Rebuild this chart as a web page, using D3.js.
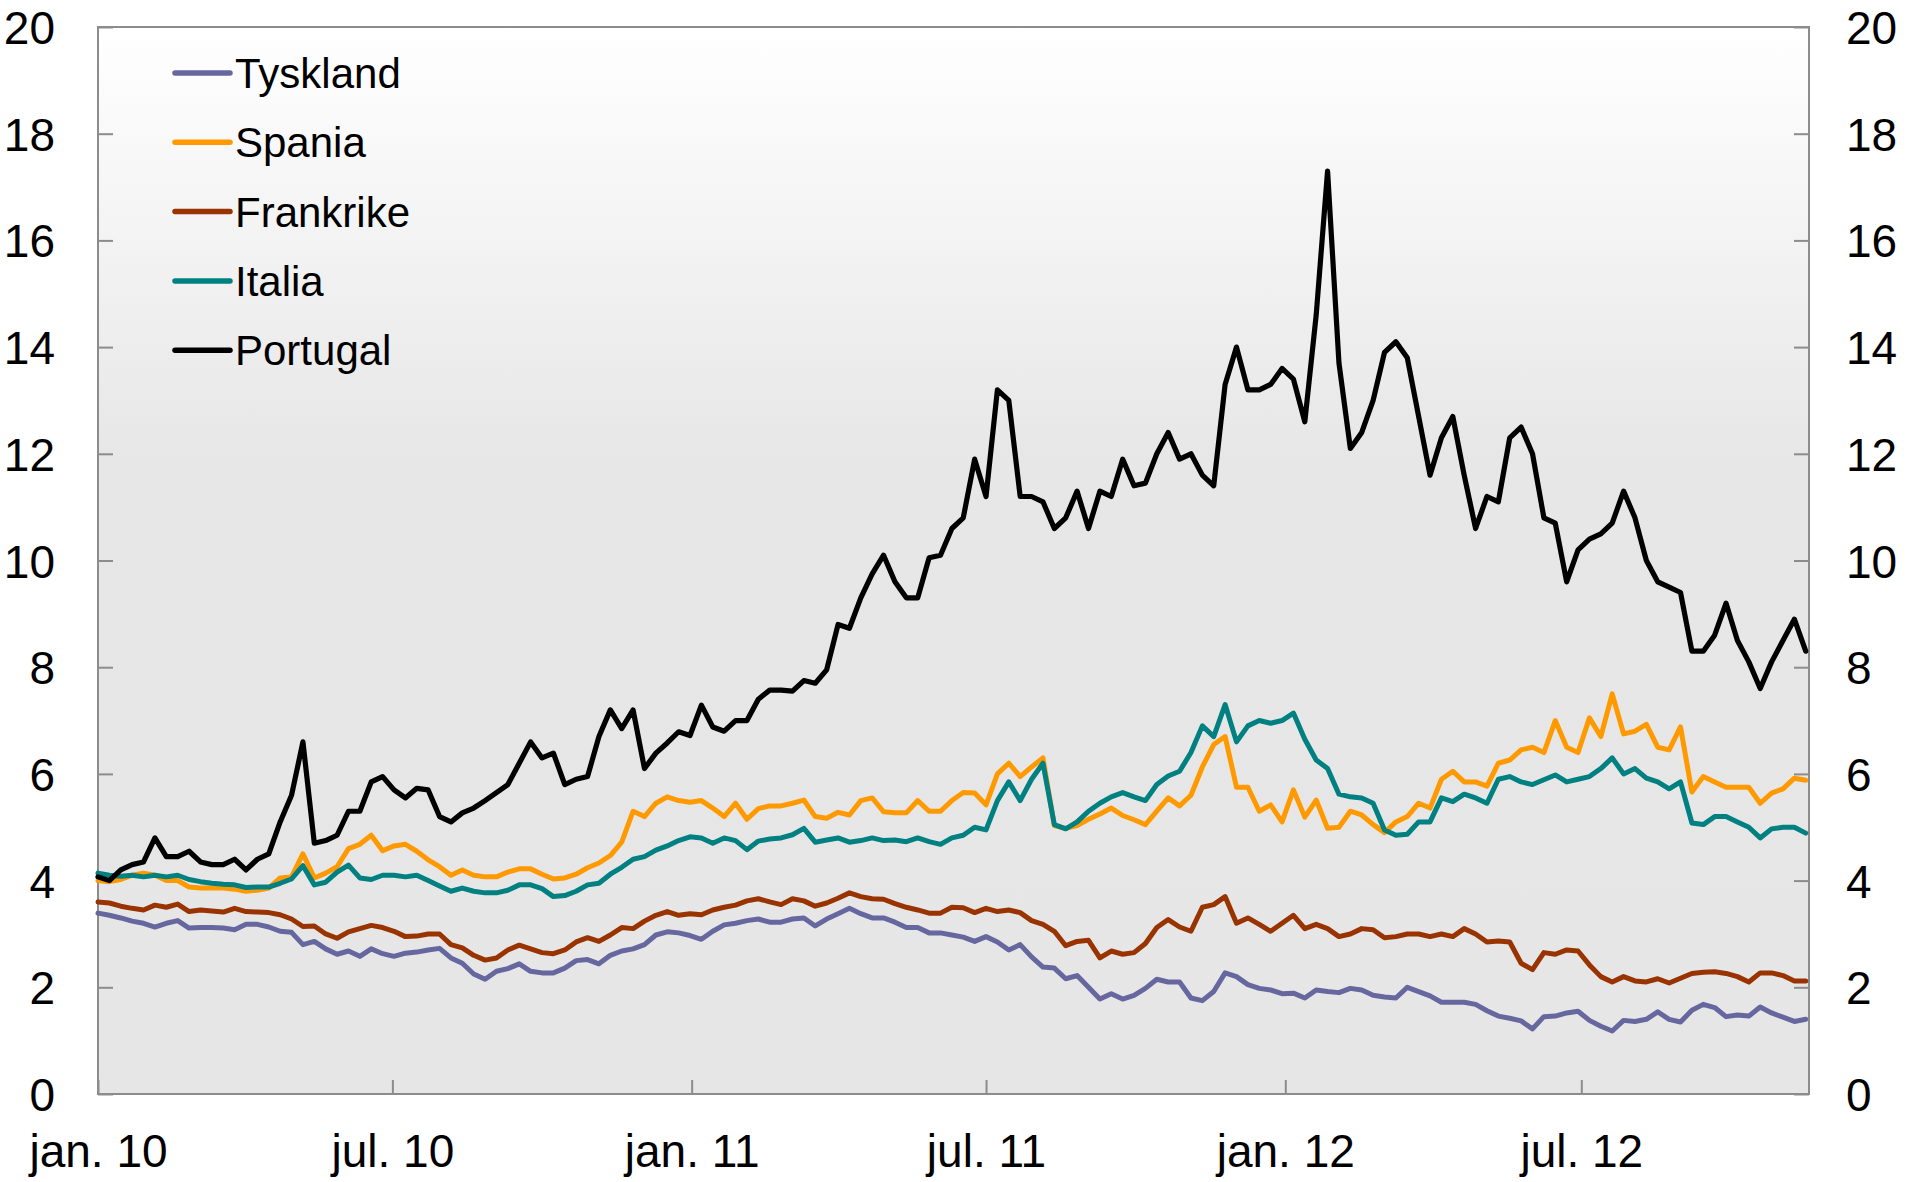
<!DOCTYPE html>
<html><head><meta charset="utf-8">
<script src="https://cdn.jsdelivr.net/npm/d3@7"></script>
<style>html,body{margin:0;padding:0;background:#fff;}svg{display:block;font-family:"Liberation Sans",Arial,sans-serif;}</style>
</head><body>
<script>
// ---- data (weekly observations starting 2010-01-01) ----
const startDate = "2010-01-01";
const seriesNames = ["Tyskland","Spania","Frankrike","Italia","Portugal"];
const seriesColors = ["#67679f","#ff9900","#993300","#008080","#000000"];
const tyskland = [3.39,3.35,3.3,3.24,3.2,3.13,3.2,3.25,3.11,3.12,3.12,3.11,3.08,3.18,3.18,3.13,3.05,3.03,2.8,2.86,2.72,2.62,2.68,2.58,2.72,2.63,2.58,2.64,2.66,2.7,2.73,2.55,2.45,2.25,2.15,2.3,2.35,2.44,2.3,2.27,2.27,2.36,2.5,2.52,2.44,2.6,2.68,2.72,2.8,2.98,3.04,3.02,2.97,2.9,3.05,3.17,3.2,3.25,3.28,3.22,3.22,3.28,3.3,3.15,3.28,3.38,3.48,3.38,3.3,3.3,3.22,3.12,3.12,3.02,3.02,2.98,2.94,2.86,2.95,2.85,2.7,2.8,2.57,2.38,2.36,2.16,2.22,2.0,1.78,1.88,1.78,1.85,1.98,2.15,2.1,2.1,1.8,1.75,1.92,2.27,2.2,2.05,1.98,1.95,1.88,1.89,1.8,1.95,1.92,1.9,1.98,1.95,1.85,1.82,1.8,2.0,1.92,1.84,1.72,1.72,1.72,1.68,1.56,1.46,1.42,1.37,1.22,1.45,1.46,1.52,1.55,1.38,1.27,1.18,1.38,1.36,1.4,1.54,1.4,1.35,1.57,1.68,1.62,1.45,1.48,1.46,1.63,1.52,1.44,1.36,1.4];
const spania = [4.0,3.98,4.02,4.1,4.14,4.1,4.0,4.0,3.88,3.86,3.86,3.86,3.84,3.8,3.82,3.86,4.05,4.07,4.5,4.05,4.14,4.26,4.6,4.68,4.85,4.56,4.65,4.68,4.55,4.39,4.26,4.1,4.2,4.1,4.07,4.07,4.16,4.22,4.22,4.12,4.03,4.05,4.12,4.24,4.33,4.47,4.72,5.3,5.2,5.45,5.57,5.5,5.47,5.5,5.36,5.2,5.45,5.15,5.35,5.4,5.4,5.45,5.51,5.2,5.17,5.28,5.23,5.5,5.55,5.29,5.27,5.27,5.5,5.3,5.3,5.5,5.65,5.64,5.42,6.0,6.2,5.95,6.13,6.3,5.03,4.98,5.03,5.15,5.25,5.36,5.22,5.14,5.05,5.3,5.55,5.4,5.6,6.13,6.55,6.7,5.75,5.75,5.3,5.42,5.1,5.7,5.19,5.51,4.98,5.0,5.3,5.23,5.05,4.9,5.1,5.2,5.45,5.36,5.9,6.05,5.85,5.85,5.77,6.2,6.26,6.45,6.5,6.4,7.0,6.5,6.4,7.05,6.7,7.5,6.75,6.8,6.93,6.5,6.45,6.88,5.66,5.95,5.85,5.75,5.75,5.75,5.45,5.64,5.72,5.92,5.88];
const frankrike = [3.6,3.58,3.52,3.48,3.45,3.54,3.5,3.56,3.42,3.45,3.43,3.41,3.48,3.42,3.41,3.4,3.36,3.28,3.14,3.15,3.0,2.92,3.04,3.1,3.16,3.12,3.05,2.95,2.96,3.0,3.0,2.8,2.74,2.6,2.51,2.55,2.7,2.79,2.72,2.65,2.63,2.7,2.85,2.93,2.86,2.98,3.12,3.1,3.24,3.35,3.42,3.35,3.38,3.36,3.45,3.5,3.54,3.62,3.66,3.6,3.55,3.66,3.62,3.52,3.58,3.67,3.77,3.7,3.66,3.65,3.57,3.5,3.45,3.39,3.39,3.5,3.49,3.4,3.48,3.42,3.45,3.4,3.25,3.18,3.05,2.78,2.86,2.88,2.55,2.68,2.62,2.65,2.82,3.12,3.27,3.13,3.05,3.5,3.55,3.7,3.2,3.3,3.18,3.05,3.2,3.35,3.1,3.18,3.1,2.95,3.0,3.1,3.08,2.93,2.95,3.0,3.0,2.95,3.0,2.95,3.1,3.0,2.85,2.87,2.85,2.45,2.33,2.65,2.62,2.7,2.68,2.42,2.2,2.1,2.2,2.12,2.1,2.16,2.08,2.17,2.26,2.28,2.29,2.26,2.2,2.1,2.27,2.27,2.22,2.12,2.12];
const italia = [4.14,4.1,4.08,4.1,4.07,4.1,4.07,4.1,4.02,3.98,3.95,3.93,3.92,3.87,3.88,3.88,3.95,4.03,4.28,3.92,3.97,4.16,4.29,4.05,4.02,4.1,4.1,4.07,4.1,4.0,3.9,3.8,3.86,3.8,3.77,3.77,3.82,3.92,3.92,3.85,3.7,3.72,3.8,3.92,3.95,4.12,4.25,4.4,4.45,4.57,4.65,4.75,4.82,4.8,4.7,4.8,4.75,4.58,4.74,4.78,4.8,4.86,4.98,4.72,4.76,4.8,4.72,4.75,4.8,4.75,4.76,4.73,4.8,4.73,4.68,4.8,4.85,5.0,4.95,5.5,5.85,5.5,5.9,6.2,5.05,4.97,5.1,5.3,5.45,5.57,5.65,5.57,5.5,5.8,5.96,6.05,6.4,6.9,6.7,7.3,6.6,6.9,7.0,6.95,7.0,7.14,6.65,6.26,6.1,5.62,5.57,5.55,5.45,4.95,4.85,4.87,5.1,5.1,5.55,5.48,5.62,5.55,5.45,5.9,5.95,5.85,5.8,5.89,5.98,5.85,5.9,5.95,6.1,6.3,6.0,6.1,5.92,5.85,5.72,5.85,5.08,5.05,5.2,5.2,5.1,5.0,4.8,4.97,5.0,5.0,4.89];
const portugal = [4.07,4.0,4.2,4.3,4.35,4.8,4.45,4.45,4.55,4.35,4.3,4.3,4.4,4.2,4.4,4.5,5.1,5.6,6.6,4.7,4.75,4.85,5.3,5.3,5.85,5.95,5.7,5.55,5.73,5.7,5.2,5.1,5.27,5.36,5.5,5.65,5.8,6.2,6.6,6.3,6.39,5.8,5.9,5.95,6.7,7.2,6.85,7.2,6.1,6.39,6.58,6.79,6.72,7.29,6.88,6.8,7.0,7.0,7.4,7.57,7.57,7.55,7.75,7.7,7.95,8.8,8.73,9.3,9.75,10.1,9.6,9.3,9.3,10.05,10.1,10.6,10.8,11.9,11.2,13.2,13.0,11.2,11.2,11.1,10.6,10.8,11.3,10.6,11.3,11.2,11.9,11.4,11.45,12.0,12.4,11.9,12.0,11.6,11.4,13.3,14.0,13.2,13.2,13.3,13.6,13.4,12.6,14.6,17.3,13.7,12.1,12.4,13.0,13.9,14.1,13.8,12.7,11.6,12.3,12.7,11.6,10.6,11.2,11.1,12.3,12.5,12.0,10.8,10.7,9.6,10.2,10.4,10.5,10.7,11.3,10.8,10.0,9.6,9.5,9.4,8.3,8.3,8.6,9.2,8.5,8.1,7.6,8.1,8.5,8.9,8.3];
const seriesValues = [tyskland, spania, frankrike, italia, portugal];
const xTickDates = ["2010-01-01","2010-07-01","2011-01-01","2011-07-01","2012-01-01","2012-07-01"];
const xTickLabels = ["jan. 10","jul. 10","jan. 11","jul. 11","jan. 12","jul. 12"];
const yTicks = [0,2,4,6,8,10,12,14,16,18,20];

// ---- layout ----
const W = 1915, H = 1182;
const M = {left: 98, right: 1809, top: 27, bottom: 1094};
const parse = d3.utcParse("%Y-%m-%d");
const t0 = parse(startDate);
const dates = d3.range(portugal.length).map(i => d3.utcDay.offset(t0, 7 * i));
const x = d3.scaleUtc().domain([t0, d3.utcDay.offset(dates[dates.length - 1], 2)]).range([M.left, M.right]);
const y = d3.scaleLinear().domain([0, 20]).range([M.bottom, M.top]);

const svg = d3.select("body").append("svg").attr("width", W).attr("height", H);
const defs = svg.append("defs");
const grad = defs.append("linearGradient").attr("id", "bg").attr("x1", 0).attr("y1", 0).attr("x2", 0).attr("y2", 1);
grad.append("stop").attr("offset", "0%").attr("stop-color", "#ffffff");
grad.append("stop").attr("offset", "40%").attr("stop-color", "#e7e7e7");
grad.append("stop").attr("offset", "100%").attr("stop-color", "#e6e6e6");

svg.append("rect").attr("x", M.left).attr("y", M.top).attr("width", M.right - M.left).attr("height", M.bottom - M.top).attr("fill", "url(#bg)");

const axisColor = "#8c8c8c";
const fontSize = 46;

// left axis
const yLeft = svg.append("g").attr("transform", `translate(${M.left},0)`)
  .call(d3.axisLeft(y).tickValues(yTicks).tickSize(-15).tickPadding(0).tickFormat(d3.format("d")));
yLeft.select(".domain").remove();
yLeft.selectAll(".tick line").attr("stroke", axisColor).attr("stroke-width", 2);
yLeft.selectAll(".tick text").attr("x", -43).attr("dy", "0.36em").attr("font-size", fontSize).attr("fill", "#000").attr("text-anchor", "end");

// right axis
const yRight = svg.append("g").attr("transform", `translate(${M.right},0)`)
  .call(d3.axisRight(y).tickValues(yTicks).tickSize(-15).tickPadding(0).tickFormat(d3.format("d")));
yRight.select(".domain").remove();
yRight.selectAll(".tick line").attr("stroke", axisColor).attr("stroke-width", 2);
yRight.selectAll(".tick text").attr("x", 37).attr("dy", "0.36em").attr("font-size", fontSize).attr("fill", "#000").attr("text-anchor", "start");

// bottom axis
const xTicks = xTickDates.map(parse);
const xAxis = svg.append("g").attr("transform", `translate(0,${M.bottom})`)
  .call(d3.axisBottom(x).tickValues(xTicks).tickSize(-14).tickPadding(0).tickFormat((d, i) => xTickLabels[i]));
xAxis.select(".domain").remove();
xAxis.selectAll(".tick line").attr("stroke", axisColor).attr("stroke-width", 2);
xAxis.selectAll(".tick text").attr("y", 73).attr("dy", 0).attr("font-size", fontSize).attr("fill", "#000");

// frame
svg.append("rect").attr("x", M.left).attr("y", M.top).attr("width", M.right - M.left).attr("height", M.bottom - M.top)
  .attr("fill", "none").attr("stroke", axisColor).attr("stroke-width", 2);

// lines
const line = d3.line().x((d, i) => x(dates[i])).y(d => y(d)).curve(d3.curveLinear);
svg.append("g").selectAll("path").data(seriesValues).join("path")
  .attr("d", d => line(d))
  .attr("fill", "none")
  .attr("stroke", (d, i) => seriesColors[i])
  .attr("stroke-width", (d, i) => i === 4 ? 5.2 : 5)
  .attr("stroke-linejoin", "round")
  .attr("stroke-linecap", "round");

// legend
const lg = svg.append("g").attr("transform", "translate(175,73)");
const items = lg.selectAll("g").data(seriesNames).join("g").attr("transform", (d, i) => `translate(0,${i * 69.3})`);
items.append("line").attr("x1", 0).attr("x2", 55).attr("y1", 0).attr("y2", 0)
  .attr("stroke", (d, i) => seriesColors[i]).attr("stroke-width", 5.5).attr("stroke-linecap", "round");
items.append("text").attr("x", 60).attr("y", 15).attr("font-size", 42).attr("fill", "#000").text(d => d);
</script>
</body></html>
